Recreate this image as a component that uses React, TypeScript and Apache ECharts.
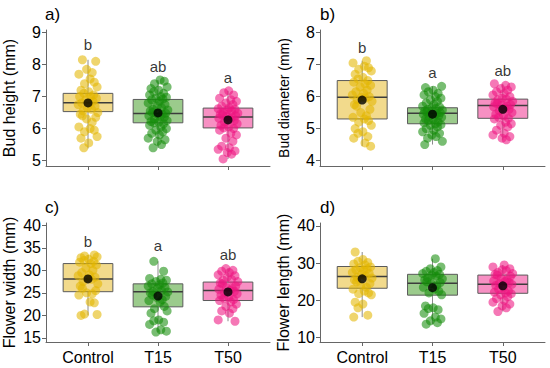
import React, { useEffect, useRef } from "react";
import * as echarts from "echarts";

const CATEGORIES = ["Control", "T15", "T50"];

// Panel a) Bud height (mm)
const budHeightControl = [8.15, 8.1, 7.85, 7.75, 7.7, 7.55, 7.45, 7.4, 7.3, 7.2, 7.15, 7.1, 7.05, 7.0, 7.0, 6.95, 6.9, 6.85, 6.8, 6.8, 6.75, 6.7, 6.65, 6.6, 6.55, 6.5, 6.45, 6.4, 6.35, 6.3, 6.2, 6.05, 6.0, 5.95, 5.9, 5.75, 5.7, 5.55, 5.4];
const budHeightT15 = [7.52, 7.48, 7.4, 7.3, 7.25, 7.2, 7.15, 7.1, 7.05, 7.0, 6.98, 6.95, 6.92, 6.9, 6.85, 6.8, 6.75, 6.7, 6.65, 6.6, 6.58, 6.55, 6.5, 6.48, 6.47, 6.45, 6.4, 6.38, 6.35, 6.3, 6.25, 6.22, 6.2, 6.18, 6.15, 6.1, 6.05, 6.0, 5.95, 5.9, 5.85, 5.8, 5.7, 5.65, 5.6, 5.5, 5.4];
const budHeightT50 = [7.18, 7.12, 7.05, 6.95, 6.9, 6.85, 6.8, 6.75, 6.7, 6.65, 6.62, 6.6, 6.58, 6.55, 6.5, 6.48, 6.45, 6.42, 6.4, 6.38, 6.35, 6.32, 6.3, 6.25, 6.2, 6.15, 6.1, 6.05, 6.02, 6.0, 5.95, 5.85, 5.8, 5.7, 5.6, 5.45, 5.4, 5.35, 5.3, 5.25, 5.2, 5.05];
const budHeightBoxes = [[5.38, 6.53, 6.81, 7.10, 8.15], [5.4, 6.18, 6.47, 6.91, 7.52], [5.05, 6.02, 6.36, 6.64, 7.18]];
const budHeightMeans = [6.80, 6.49, 6.27];
const budHeightLetters = ["b", "ab", "a"];
const budHeightLetterY = [8.63, 7.94, 7.6];
const budHeightTicks = [5, 6, 7, 8, 9];

// Panel b) Bud diameter (mm)
const budDiamControl = [7.12, 7.05, 6.95, 6.9, 6.85, 6.8, 6.7, 6.6, 6.55, 6.5, 6.45, 6.4, 6.35, 6.3, 6.2, 6.15, 6.1, 6.05, 6.0, 5.98, 5.95, 5.9, 5.85, 5.75, 5.7, 5.6, 5.5, 5.4, 5.35, 5.3, 5.25, 5.2, 5.1, 5.0, 4.9, 4.85, 4.75, 4.7, 4.55, 4.45];
const budDiamT15 = [6.32, 6.28, 6.2, 6.15, 6.1, 6.05, 6.0, 5.95, 5.9, 5.85, 5.8, 5.75, 5.7, 5.68, 5.65, 5.62, 5.6, 5.58, 5.55, 5.52, 5.5, 5.48, 5.47, 5.45, 5.42, 5.4, 5.38, 5.35, 5.3, 5.28, 5.25, 5.2, 5.18, 5.15, 5.12, 5.1, 5.05, 5.0, 4.95, 4.9, 4.85, 4.8, 4.75, 4.7, 4.6, 4.5];
const budDiamT50 = [6.4, 6.35, 6.3, 6.25, 6.2, 6.15, 6.1, 6.05, 6.0, 5.95, 5.92, 5.9, 5.85, 5.8, 5.78, 5.75, 5.72, 5.7, 5.68, 5.65, 5.6, 5.55, 5.5, 5.45, 5.4, 5.35, 5.32, 5.3, 5.2, 5.15, 5.1, 5.05, 4.95, 4.85, 4.8, 4.75, 4.7, 4.65];
const budDiamBoxes = [[4.45, 5.30, 5.98, 6.50, 7.12], [4.5, 5.15, 5.48, 5.65, 6.32], [4.65, 5.32, 5.72, 5.92, 6.4]];
const budDiamMeans = [5.89, 5.45, 5.60];
const budDiamLetters = ["b", "a", "ab"];
const budDiamLetterY = [7.53, 6.75, 6.82];
const budDiamTicks = [4, 5, 6, 7, 8];

// Panel c) Flower width (mm)
const flowerWidthControl = [33.4, 33.2, 33.0, 32.8, 32.5, 32.2, 32.0, 31.8, 31.5, 31.2, 30.5, 30.0, 29.5, 29.0, 28.8, 28.5, 28.2, 28.0, 27.5, 27.0, 26.5, 26.0, 25.5, 25.0, 24.8, 24.5, 23.0, 22.8, 20.3, 20.2, 20.0];
const flowerWidthT15 = [32.0, 29.8, 28.2, 28.0, 27.8, 27.5, 27.2, 27.0, 26.8, 26.5, 26.2, 26.0, 25.5, 25.3, 25.2, 25.0, 24.5, 24.2, 24.0, 23.5, 23.3, 23.0, 22.0, 21.5, 21.0, 20.5, 19.0, 18.8, 18.5, 18.0, 16.8, 16.5, 16.3];
const flowerWidthT50 = [30.4, 30.0, 29.8, 29.5, 29.0, 28.8, 28.5, 28.0, 27.8, 27.5, 27.2, 27.0, 26.5, 26.2, 26.0, 25.8, 25.5, 25.3, 25.0, 24.8, 24.5, 24.0, 23.8, 23.5, 23.3, 23.0, 22.5, 22.0, 21.5, 21.0, 20.5, 19.0, 18.7];
const flowerWidthBoxes = [[20.0, 25.26, 28.1, 31.5, 33.4], [16.3, 21.9, 25.25, 27.0, 32.0], [18.7, 23.3, 25.5, 27.4, 30.4]];
const flowerWidthMeans = [28.1, 24.3, 25.2];
const flowerWidthLetters = ["b", "a", "ab"];
const flowerWidthLetterY = [36.5, 35.4, 33.5];
const flowerWidthTicks = [15, 20, 25, 30, 35, 40];

// Panel d) Flower length (mm)
const flowerLengthControl = [33.0, 31.0, 30.5, 30.2, 29.8, 29.5, 29.0, 28.8, 28.5, 28.2, 28.0, 27.5, 27.2, 27.0, 26.5, 26.2, 26.0, 25.5, 25.0, 24.5, 24.0, 23.5, 23.0, 22.5, 22.0, 21.8, 21.5, 19.5, 19.0, 18.0, 16.0, 15.5];
const flowerLengthT15 = [31.2, 29.0, 28.5, 28.0, 27.8, 27.5, 27.2, 27.0, 26.8, 26.5, 26.0, 25.8, 25.5, 25.0, 24.8, 24.5, 24.0, 23.5, 23.0, 22.5, 22.0, 21.5, 18.5, 18.0, 17.8, 17.5, 16.5, 15.5, 15.0, 14.5, 14.0, 13.6];
const flowerLengthT50 = [29.5, 29.0, 28.5, 28.2, 28.0, 27.5, 27.2, 27.0, 26.8, 26.5, 26.0, 25.5, 25.2, 25.0, 24.8, 24.5, 24.3, 24.0, 23.5, 23.0, 22.5, 22.2, 22.0, 21.8, 21.5, 21.0, 20.5, 20.0, 19.5, 19.0, 18.5, 18.0, 17.0];
const flowerLengthBoxes = [[15.5, 23.25, 26.4, 29.1, 33.0], [13.6, 21.4, 24.6, 27.0, 31.2], [17.0, 21.9, 24.3, 26.8, 29.5]];
const flowerLengthMeans = [25.8, 23.4, 23.9];
const flowerLengthLetters: string[] = [];
const flowerLengthLetterY: number[] = [];
const flowerLengthTicks = [10, 20, 30, 40];

// fixed horizontal jitter pattern (category units)
const JITTER = [-0.08, 0.11, -0.02, 0.06, -0.13, 0.03, 0.09, -0.05, 0.13, -0.10, 0.01, -0.06, 0.08, -0.12, 0.04, 0.12, -0.03, 0.07, -0.09, 0.02, -0.14, 0.10, -0.01, 0.05, -0.07, 0.14, -0.11];

const POINT_COLORS = ["rgba(228,182,0,0.72)", "rgba(20,140,10,0.72)", "rgba(238,20,128,0.72)"];
const BOX_FILLS = ["#F2DA8C", "#9BCB8C", "#F790C3"];
const FONT = "Liberation Sans, Arial, sans-serif";

const panels = [
  { label: "a)", name: "Bud height (mm)", nameSize: 16, groups: [budHeightControl, budHeightT15, budHeightT50], boxes: budHeightBoxes, means: budHeightMeans, letters: budHeightLetters, letterY: budHeightLetterY, ticks: budHeightTicks, min: 4.83, max: 9.08, grid: { left: 45, top: 30, width: 225, height: 136 }, showX: false },
  { label: "b)", name: "Bud diameter (mm)", nameSize: 14, groups: [budDiamControl, budDiamT15, budDiamT50], boxes: budDiamBoxes, means: budDiamMeans, letters: budDiamLetters, letterY: budDiamLetterY, ticks: budDiamTicks, min: 3.83, max: 8.08, grid: { left: 320, top: 30, width: 225, height: 136 }, showX: false },
  { label: "c)", name: "Flower width (mm)", nameSize: 16, groups: [flowerWidthControl, flowerWidthT15, flowerWidthT50], boxes: flowerWidthBoxes, means: flowerWidthMeans, letters: flowerWidthLetters, letterY: flowerWidthLetterY, ticks: flowerWidthTicks, min: 14.1, max: 40.5, grid: { left: 45, top: 223, width: 225, height: 119 }, showX: true },
  { label: "d)", name: "Flower length (mm)", nameSize: 16, groups: [flowerLengthControl, flowerLengthT15, flowerLengthT50], boxes: flowerLengthBoxes, means: flowerLengthMeans, letters: flowerLengthLetters, letterY: flowerLengthLetterY, ticks: flowerLengthTicks, min: 8.8, max: 40.8, grid: { left: 320, top: 223, width: 225, height: 119 }, showX: true },
];

function buildOption() {
  const grid: any[] = [];
  const xAxis: any[] = [];
  const yAxis: any[] = [];
  const series: any[] = [];
  const graphic: any[] = [];

  panels.forEach((p, pi) => {
    grid.push({ ...p.grid, containLabel: false });
    xAxis.push({
      type: "value", gridIndex: pi, min: 0.4, max: 3.6,
      axisLine: { show: true, lineStyle: { color: "#666", width: 1 } },
      axisTick: { show: true, customValues: [1, 2, 3], length: 4, lineStyle: { color: "#666" } },
      axisLabel: { show: p.showX, customValues: [1, 2, 3], formatter: (v: number) => CATEGORIES[Math.round(v) - 1] || "", color: "#000", fontSize: 16, fontFamily: FONT, margin: 7 },
      splitLine: { show: false },
    });
    yAxis.push({
      type: "value", gridIndex: pi, min: p.min, max: p.max,
      name: p.name, nameLocation: "middle", nameGap: 29, nameRotate: 90,
      nameTextStyle: { fontSize: p.nameSize, fontFamily: FONT, color: "#000" },
      axisLine: { show: true, lineStyle: { color: "#666", width: 1 } },
      axisTick: { show: true, customValues: p.ticks, length: 4, lineStyle: { color: "#666" } },
      axisLabel: { customValues: p.ticks, color: "#000", fontSize: 16, fontFamily: FONT, margin: 5 },
      splitLine: { show: false },
    });

    // boxes
    series.push({
      type: "custom", xAxisIndex: pi, yAxisIndex: pi, z: 1,
      data: p.boxes.map((b, gi) => [gi + 1, ...b, gi]),
      encode: { x: 0, y: [1, 2, 3, 4, 5] },
      renderItem: (params: any, api: any) => {
        const x = api.value(0);
        const gi = api.value(6);
        const pLow = api.coord([x, api.value(1)]);
        const pQ1 = api.coord([x, api.value(2)]);
        const pMed = api.coord([x, api.value(3)]);
        const pQ3 = api.coord([x, api.value(4)]);
        const pHigh = api.coord([x, api.value(5)]);
        const hw = api.size([0.71, 0])[0] / 2;
        return {
          type: "group",
          children: [
            { type: "line", shape: { x1: pLow[0], y1: pLow[1], x2: pQ1[0], y2: pQ1[1] }, style: { stroke: "#8c8c8c", lineWidth: 1 } },
            { type: "line", shape: { x1: pQ3[0], y1: pQ3[1], x2: pHigh[0], y2: pHigh[1] }, style: { stroke: "#8c8c8c", lineWidth: 1 } },
            { type: "rect", shape: { x: pQ1[0] - hw, y: pQ3[1], width: 2 * hw, height: pQ1[1] - pQ3[1] }, style: { fill: BOX_FILLS[gi], stroke: "#5a5a5a", lineWidth: 1 } },
            { type: "line", shape: { x1: pMed[0] - hw, y1: pMed[1], x2: pMed[0] + hw, y2: pMed[1] }, style: { stroke: "#3c3c3c", lineWidth: 1.5 } },
          ],
        };
      },
    });

    // points
    p.groups.forEach((vals, gi) => {
      series.push({
        type: "scatter", xAxisIndex: pi, yAxisIndex: pi, z: 3,
        symbol: "circle", symbolSize: 9,
        itemStyle: { color: POINT_COLORS[gi] },
        data: vals.map((v, i) => [gi + 1 + JITTER[(i + gi * 5 + pi * 3) % JITTER.length], v]),
      });
    });

    // means
    series.push({
      type: "scatter", xAxisIndex: pi, yAxisIndex: pi, z: 5,
      symbol: "circle", symbolSize: 9,
      itemStyle: { color: "#000" },
      data: p.means.map((m, gi) => [gi + 1, m]),
    });

    // letters
    if (p.letters.length) {
      series.push({
        type: "scatter", xAxisIndex: pi, yAxisIndex: pi, z: 6,
        symbolSize: 1, itemStyle: { color: "transparent" },
        label: { show: true, position: "inside", formatter: (q: any) => q.value[2], color: "#000", fontSize: 15, fontFamily: FONT },
        data: p.letters.map((l, gi) => [gi + 1, p.letterY[gi], l]),
      });
    }

    graphic.push({
      type: "text", left: p.grid.left, top: p.grid.top - 24,
      style: { text: p.label, fontSize: 17, fontFamily: FONT, fill: "#000" },
    });
  });

  return { animation: false, backgroundColor: "#fff", grid, xAxis, yAxis, series, graphic };
}

export default function App() {
  const ref = useRef<HTMLDivElement>(null);
  useEffect(() => {
    if (!ref.current) return;
    const chart = echarts.init(ref.current, undefined, { renderer: "svg" });
    chart.setOption(buildOption() as any);
    return () => chart.dispose();
  }, []);
  return <div ref={ref} style={{ position: "fixed", left: 0, top: 0, width: 550, height: 368 }} />;
}
